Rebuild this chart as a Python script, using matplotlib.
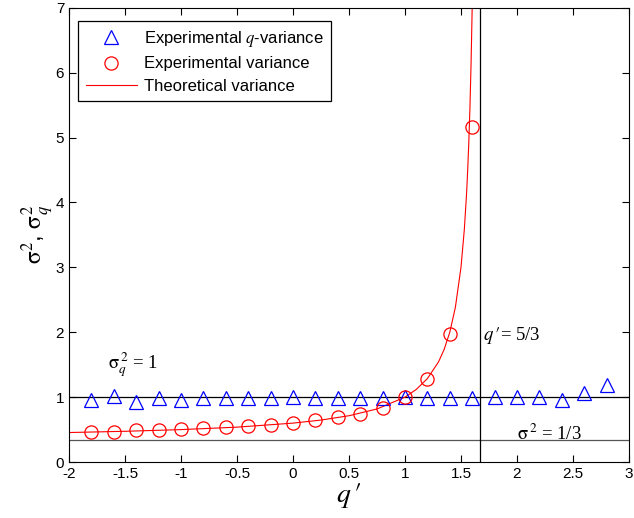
import matplotlib.pyplot as plt
import numpy as np

plt.rcParams['font.family'] = ['Liberation Sans', 'DejaVu Sans']
plt.rcParams['mathtext.fontset'] = 'stix'

# experimental q-variance (triangles)
q_tri = [-1.8, -1.6, -1.4, -1.2, -1.0, -0.8, -0.6, -0.4, -0.2, 0.0, 0.2, 0.4, 0.6, 0.8,
         1.0, 1.2, 1.4, 1.6, 1.8, 2.0, 2.2, 2.4, 2.6, 2.8]
var_q = [0.96, 1.02, 0.93, 0.98, 0.96, 0.98, 0.98, 0.98, 0.99, 1.00, 0.99, 0.99, 0.99, 0.99,
         1.01, 0.99, 0.99, 0.99, 1.01, 1.00, 1.00, 0.96, 1.07, 1.19]

# experimental variance (circles)
q_circ = [-1.8, -1.6, -1.4, -1.2, -1.0, -0.8, -0.6, -0.4, -0.2, 0.0, 0.2, 0.4, 0.6, 0.8,
          1.0, 1.2, 1.4, 1.6]
var_exp = [0.46, 0.46, 0.49, 0.49, 0.51, 0.52, 0.54, 0.55, 0.57, 0.60, 0.65, 0.69, 0.74, 0.83,
           1.01, 1.28, 1.97, 5.17]

# theoretical variance
q_th = [-2.0, -1.5, -1.0, -0.5, 0.0, 0.25, 0.5, 0.75, 1.0, 1.1, 1.2, 1.3, 1.35, 1.4, 1.45,
        1.5, 1.53, 1.55, 1.56, 1.57, 1.58, 1.59, 1.6, 1.61]
var_th = [0.455, 0.474, 0.50, 0.538, 0.60, 0.647, 0.714, 0.818, 1.0, 1.118, 1.286, 1.545, 1.737,
          2.0, 2.385, 3.0, 3.585, 4.14, 4.5, 4.93, 5.46, 6.13, 7.0, 8.18]

fig = plt.figure(figsize=(6.34, 5.18), dpi=100)
ax = fig.add_axes([0.109, 0.108, 0.883, 0.877])

ax.axhline(1, color='black', lw=0.9, zorder=1)
ax.axhline(1/3, color='#555555', lw=0.9, zorder=1)
ax.axvline(5/3, color='black', lw=0.9, zorder=1)

ax.plot(q_tri, var_q, linestyle='none', marker='^', ms=10, mfc='none', mec='blue', mew=0.9,
        label='Experimental $q$-variance', zorder=3)
ax.plot(q_circ, var_exp, linestyle='none', marker='o', ms=9.5, mfc='none', mec='red', mew=0.9,
        label='Experimental variance', zorder=3)
ax.plot(q_th, var_th, color='red', lw=0.8, label='Theoretical variance', zorder=2)

ax.text(1.70, 1.95, r"$q\,\prime$= 5/3", fontsize=13.5, va='center', family='Liberation Serif')
ax.text(-1.65, 1.5, r"$\mathrm{\sigma}_q^{\,2}$ = 1", fontsize=13.5, va='center',
        family='Liberation Serif')
ax.text(2.0, 0.43, r"$\mathrm{\sigma}^{\,2}$ = 1/3", fontsize=13.5, va='center',
        family='Liberation Serif')

ax.set_xlim(-2, 3)
ax.set_ylim(0, 7)
ax.set_xticks(np.arange(-2, 3.01, 0.5))
ax.set_xticklabels(['-2', '-1.5', '-1', '-0.5', '0', '0.5', '1', '1.5', '2', '2.5', '3'])
ax.set_yticks(range(0, 8))
ax.tick_params(direction='in', top=True, right=True, length=5, labelsize=11)
ax.set_xlabel(r"$q\,\prime$", fontsize=20, labelpad=0)
ax.set_ylabel(r"$\mathrm{\sigma}^2$, $\mathrm{\sigma}_q^2$", fontsize=17, labelpad=0)

leg = ax.legend(loc='upper left', bbox_to_anchor=(0.016, 0.97), borderaxespad=0,
                fontsize=12, fancybox=False, edgecolor='black', framealpha=1,
                handlelength=3.1, handletextpad=0.4, borderpad=0.45, labelspacing=0.45)
leg.get_frame().set_linewidth(0.9)

fig.savefig('out.png', dpi=100)
